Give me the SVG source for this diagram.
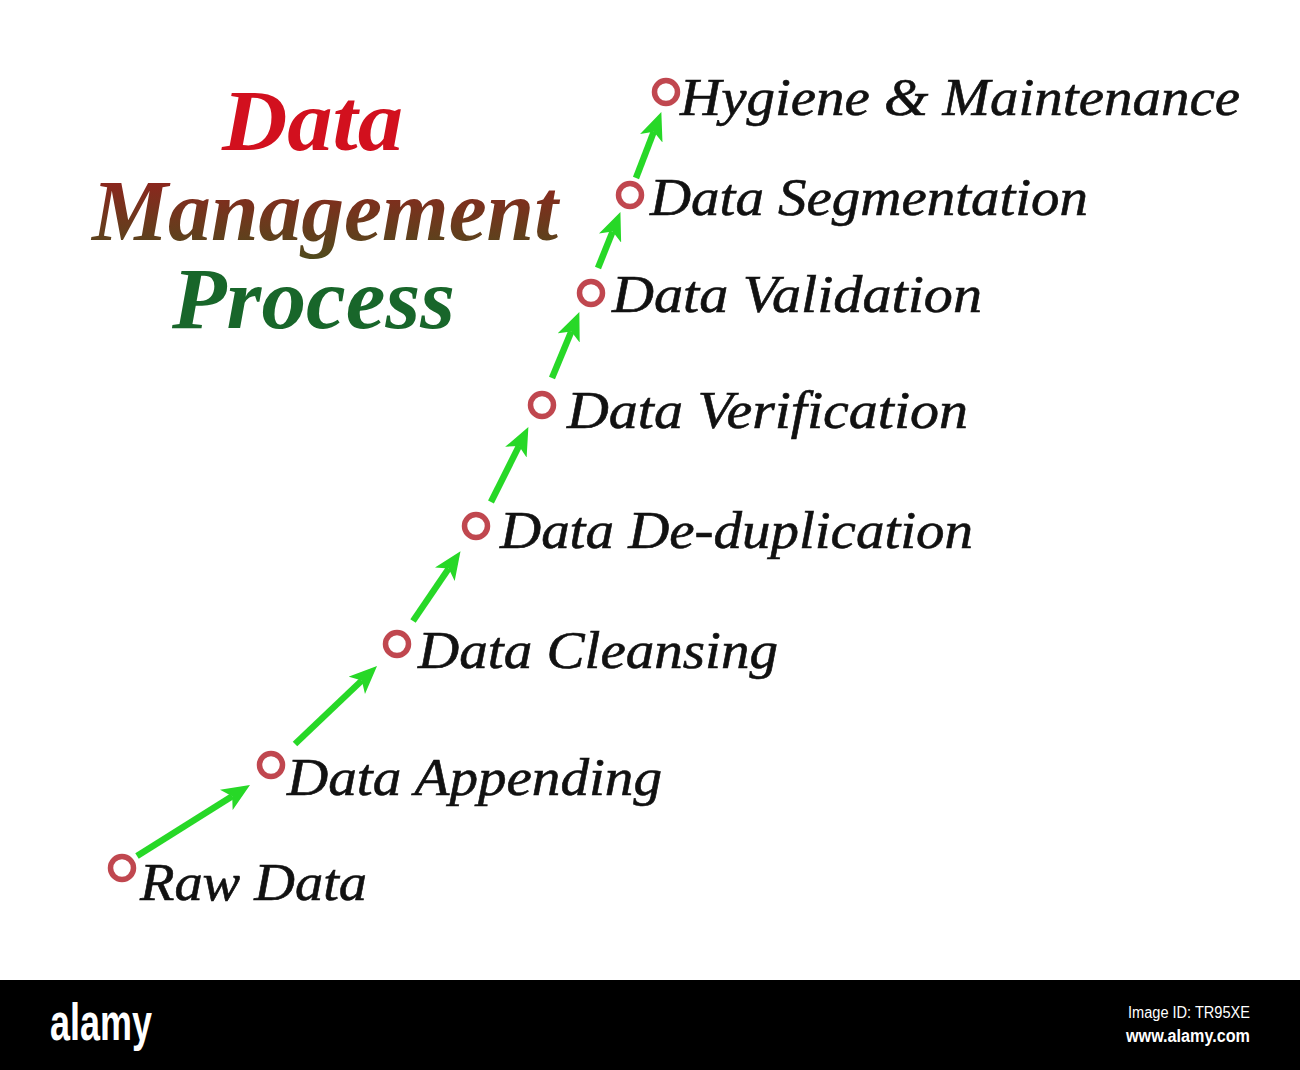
<svg xmlns="http://www.w3.org/2000/svg" width="1300" height="1070" viewBox="0 0 1300 1070">
  <defs>
    <linearGradient id="mgmt" x1="0" y1="0" x2="0" y2="1">
      <stop offset="0" stop-color="#9a1e1e"/>
      <stop offset="1" stop-color="#4f4a1c"/>
    </linearGradient>
    <marker id="ah" viewBox="0 0 28 24" refX="7" refY="12" markerWidth="28" markerHeight="24" markerUnits="userSpaceOnUse" orient="auto">
      <path d="M0,0 L28,12 L0,24 L7,12 Z" fill="#27d827"/>
    </marker>
  </defs>
  <style>
    .lbl { font-family: "Liberation Serif", "Times New Roman", serif; font-style: italic; font-size: 52px; fill: #111; stroke: #111; stroke-width: 0.6px; }
    .title { font-family: "Liberation Serif", "Times New Roman", serif; font-style: italic; font-weight: bold; font-size: 86px; text-anchor: middle; }
    .node circle { fill: none; stroke: #c0474f; stroke-width: 5.5; }
    .conn line { stroke: #27d827; stroke-width: 6.5; marker-end: url(#ah); }
    .wm { font-family: "Liberation Sans", Arial, sans-serif; fill: #fff; }
  </style>
  <rect width="1300" height="1070" fill="#fff"/>

  <g id="title">
    <text class="title" x="312.5" y="150" fill="#d2101e" textLength="181" lengthAdjust="spacingAndGlyphs">Data</text>
    <text class="title" x="325" y="240" fill="url(#mgmt)" textLength="466" lengthAdjust="spacingAndGlyphs">Management</text>
    <text class="title" x="313.5" y="328" fill="#18662a" textLength="283" lengthAdjust="spacingAndGlyphs">Process</text>
  </g>

  <g id="connectors" class="conn">
    <line x1="137" y1="856" x2="232.2" y2="796.2"/>
    <line x1="295" y1="744" x2="361.8" y2="680.5"/>
    <line x1="413" y1="621" x2="448.7" y2="568.5"/>
    <line x1="491" y1="502" x2="519.0" y2="445.9"/>
    <line x1="552" y1="378" x2="571.3" y2="331.5"/>
    <line x1="598" y1="268" x2="612.6" y2="231.6"/>
    <line x1="636" y1="178" x2="653.8" y2="131.7"/>
  </g>

  <g id="n-raw" class="node">
    <circle cx="122" cy="868" r="11.5"/>
    <text class="lbl" x="140" y="900" textLength="227" lengthAdjust="spacingAndGlyphs">Raw Data</text>
  </g>
  <g id="n-append" class="node">
    <circle cx="271" cy="765" r="11.5"/>
    <text class="lbl" x="287" y="795" textLength="375" lengthAdjust="spacingAndGlyphs">Data Appending</text>
  </g>
  <g id="n-cleanse" class="node">
    <circle cx="397" cy="644" r="11.5"/>
    <text class="lbl" x="418" y="668" textLength="360" lengthAdjust="spacingAndGlyphs">Data Cleansing</text>
  </g>
  <g id="n-dedup" class="node">
    <circle cx="476" cy="526" r="11.5"/>
    <text class="lbl" x="500" y="548" textLength="473" lengthAdjust="spacingAndGlyphs">Data De-duplication</text>
  </g>
  <g id="n-verify" class="node">
    <circle cx="542" cy="405" r="11.5"/>
    <text class="lbl" x="567" y="428" textLength="401" lengthAdjust="spacingAndGlyphs">Data Verification</text>
  </g>
  <g id="n-validate" class="node">
    <circle cx="591" cy="293" r="11.5"/>
    <text class="lbl" x="612" y="312" textLength="370" lengthAdjust="spacingAndGlyphs">Data Validation</text>
  </g>
  <g id="n-segment" class="node">
    <circle cx="630" cy="195" r="11.5"/>
    <text class="lbl" x="650" y="215" textLength="438" lengthAdjust="spacingAndGlyphs">Data Segmentation</text>
  </g>
  <g id="n-hygiene" class="node">
    <circle cx="666" cy="92" r="11.5"/>
    <text class="lbl" x="680" y="115" textLength="560" lengthAdjust="spacingAndGlyphs">Hygiene &amp; Maintenance</text>
  </g>

  <g id="footer">
    <rect x="0" y="980" width="1300" height="90" fill="#000"/>
    <text class="wm" x="50" y="1040" font-size="52" font-weight="bold" textLength="102" lengthAdjust="spacingAndGlyphs">alamy</text>
    <text class="wm" x="1250" y="1018" font-size="16" text-anchor="end" textLength="122" lengthAdjust="spacingAndGlyphs">Image ID: TR95XE</text>
    <text class="wm" x="1250" y="1042" font-size="18" font-weight="bold" text-anchor="end" textLength="124" lengthAdjust="spacingAndGlyphs">www.alamy.com</text>
  </g>
</svg>
